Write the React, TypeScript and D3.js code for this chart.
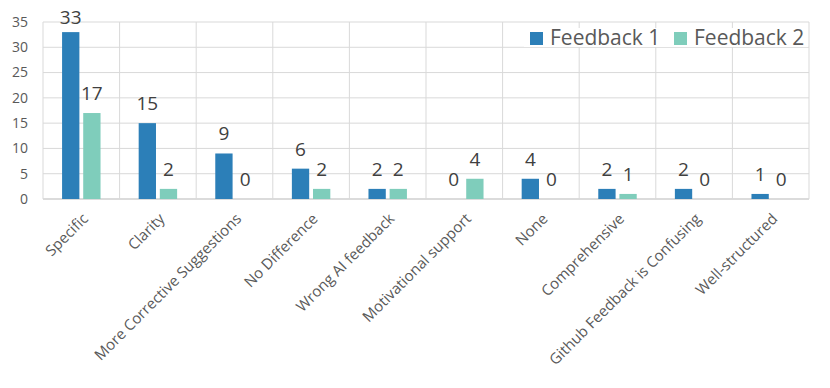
import { useEffect, useRef } from 'react';
import * as d3 from 'd3';

const categories = [
  'Specific',
  'Clarity',
  'More Corrective Suggestions',
  'No Difference',
  'Wrong AI feedback',
  'Motivational support',
  'None',
  'Comprehensive',
  'Github Feedback is Confusing',
  'Well-structured',
];
const feedback1 = [33, 15, 9, 6, 2, 0, 4, 2, 2, 1];
const feedback2 = [17, 2, 0, 2, 2, 4, 0, 1, 0, 0];
const seriesNames = ['Feedback 1', 'Feedback 2'];
const colors = ['#2c7fb8', '#7fcdbb'];
const yTicks = [0, 5, 10, 15, 20, 25, 30, 35];

const width = 830;
const height = 388;
const margin = { top: 22, right: 21, bottom: 189, left: 43 };
const font = '"Open Sans", sans-serif';

export default function App() {
  const svgRef = useRef<SVGSVGElement | null>(null);

  useEffect(() => {
    const svg = d3.select(svgRef.current);
    svg.selectAll('*').remove();

    const innerW = width - margin.left - margin.right;
    const innerH = height - margin.top - margin.bottom;

    const g = svg.append('g')
      .attr('transform', `translate(${margin.left},${margin.top})`);

    const x = d3.scaleBand()
      .domain(categories)
      .range([0, innerW]);

    const y = d3.scaleLinear()
      .domain([0, 35])
      .range([innerH, 0]);

    // bars inside one category: ~17px wide, ~4px gap
    const barW = x.bandwidth() * 0.226;
    const gap = x.bandwidth() * 0.05;
    const groupW = barW * 2 + gap;

    // horizontal grid
    g.selectAll('.hgrid')
      .data(yTicks)
      .enter()
      .append('line')
      .attr('x1', 0)
      .attr('x2', innerW)
      .attr('y1', d => y(d))
      .attr('y2', d => y(d))
      .attr('stroke', d => d === 0 ? '#cfcfcf' : '#d9d9d9')
      .attr('stroke-width', d => d === 0 ? 1.5 : 1);

    // vertical grid between categories
    const vx = categories.map(c => x(c)!).concat([innerW]);
    g.selectAll('.vgrid')
      .data(vx)
      .enter()
      .append('line')
      .attr('x1', d => d)
      .attr('x2', d => d)
      .attr('y1', 0)
      .attr('y2', innerH)
      .attr('stroke', '#d9d9d9');

    // y tick labels
    g.selectAll('.ytick')
      .data(yTicks)
      .enter()
      .append('text')
      .attr('x', -15)
      .attr('y', d => y(d))
      .attr('dy', '0.35em')
      .attr('text-anchor', 'end')
      .attr('font-family', font)
      .attr('font-size', 14)
      .attr('fill', '#595959')
      .text(d => d);

    const series = [feedback1, feedback2];
    series.forEach((vals, si) => {
      const bx = (i: number) =>
        x(categories[i])! + x.bandwidth() / 2 - groupW / 2 + si * (barW + gap);

      g.selectAll(`.bar${si}`)
        .data(vals)
        .enter()
        .append('rect')
        .attr('x', (d, i) => bx(i))
        .attr('y', d => y(d))
        .attr('width', barW)
        .attr('height', d => innerH - y(d))
        .attr('fill', colors[si]);

      // value labels, pushed down when they would leave the top
      g.selectAll(`.val${si}`)
        .data(vals)
        .enter()
        .append('text')
        .attr('x', (d, i) => bx(i) + barW / 2)
        .attr('y', d => Math.max(y(d) - 13, 2))
        .attr('text-anchor', 'middle')
        .attr('font-family', font)
        .attr('font-size', 19)
        .attr('fill', '#404040')
        .text(d => d);
    });

    // x labels rotated
    g.selectAll('.xlab')
      .data(categories)
      .enter()
      .append('text')
      .attr('transform', d =>
        `translate(${x(d)! + x.bandwidth() / 2 + 4},${innerH + 17}) rotate(-45)`)
      .attr('text-anchor', 'end')
      .attr('dy', '0.35em')
      .attr('font-family', font)
      .attr('font-size', 15)
      .attr('fill', '#595959')
      .text(d => d);

    // legend
    const legend = svg.append('g');
    legend.append('rect')
      .attr('x', 524)
      .attr('y', 28)
      .attr('width', 284)
      .attr('height', 19)
      .attr('fill', '#fff');
    const legendX = [530, 674];
    seriesNames.forEach((name, i) => {
      legend.append('rect')
        .attr('x', legendX[i])
        .attr('y', 32)
        .attr('width', 13)
        .attr('height', 13)
        .attr('fill', colors[i]);
      legend.append('text')
        .attr('x', legendX[i] + 20)
        .attr('y', 45)
        .attr('font-family', font)
        .attr('font-size', 21)
        .attr('fill', '#595959')
        .text(name);
    });
  }, []);

  return (
    <svg
      ref={svgRef}
      width={width}
      height={height}
      style={{ position: 'absolute', left: 0, top: 0, background: '#fff' }}
    />
  );
}
